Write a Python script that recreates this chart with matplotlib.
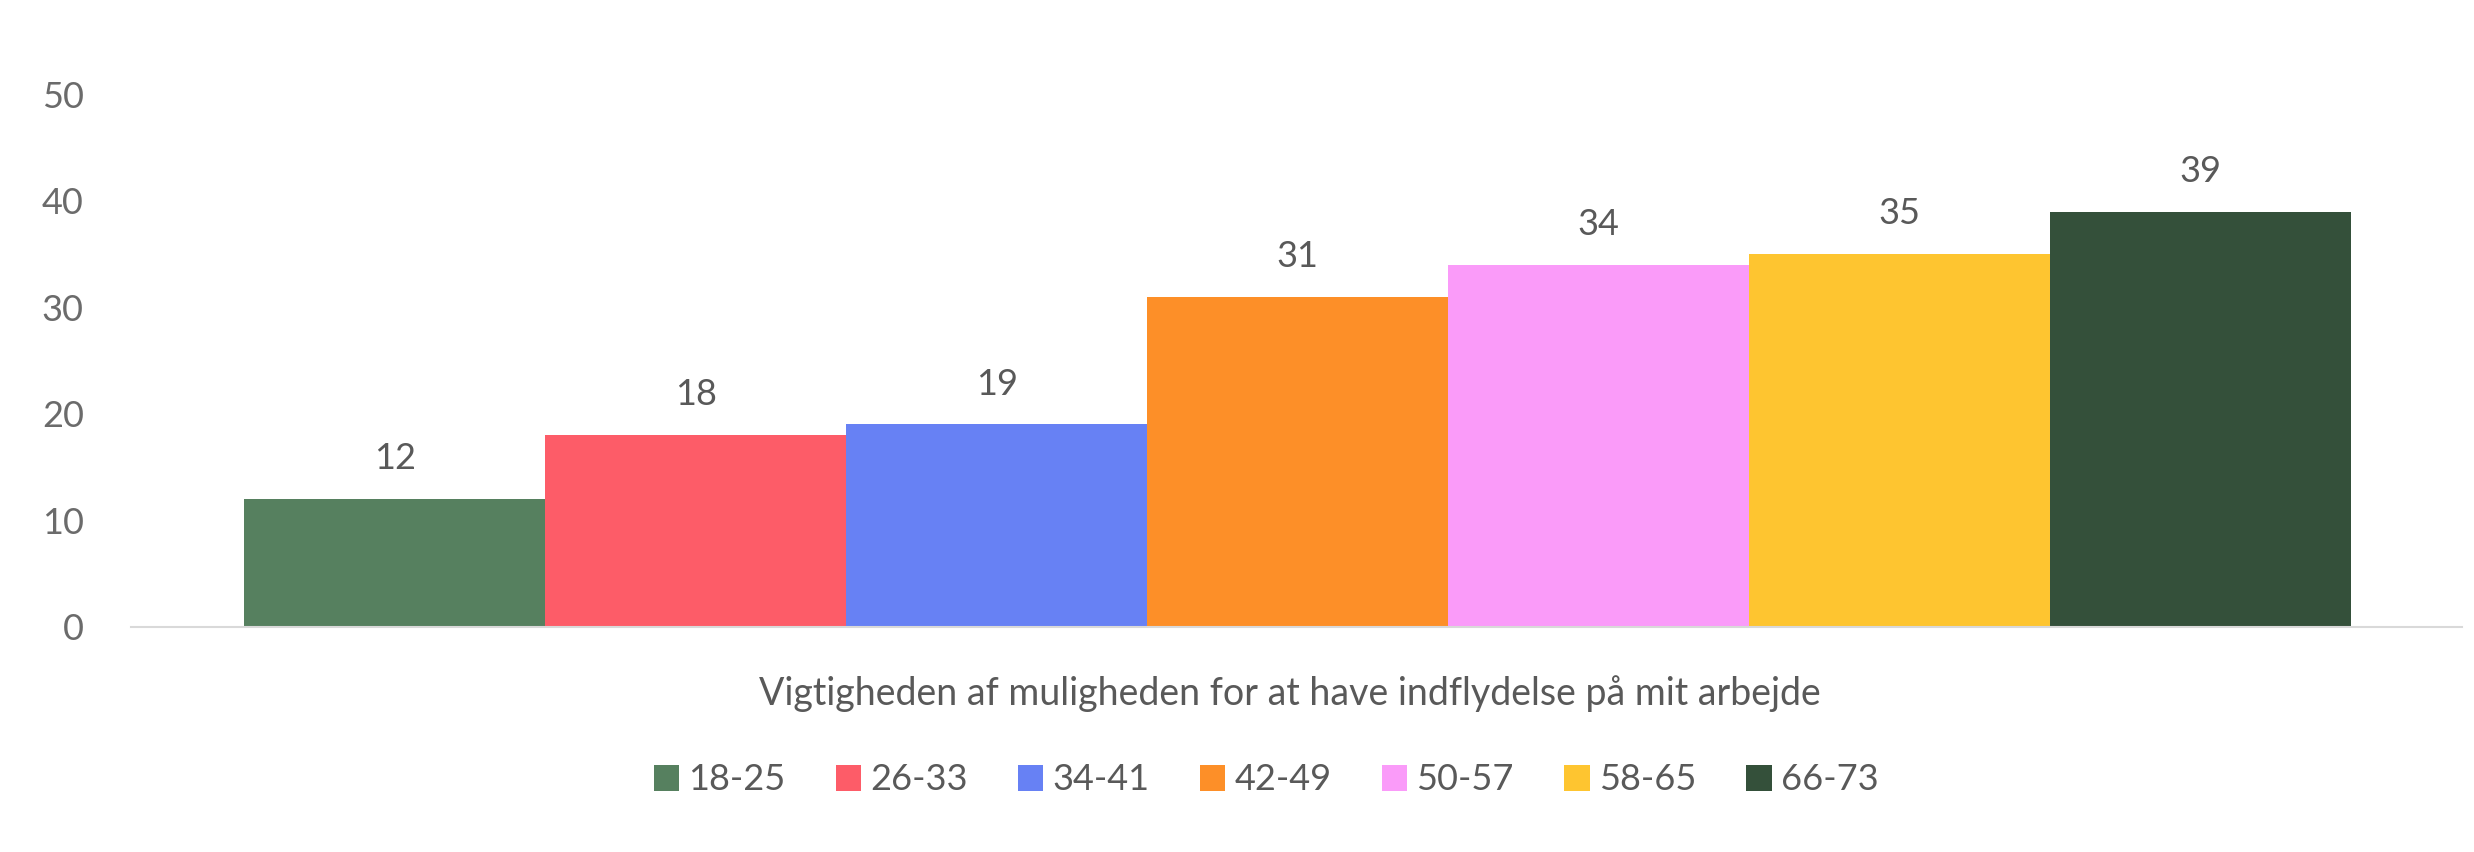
import matplotlib

matplotlib.use("Agg")
import matplotlib.pyplot as plt  # noqa: E402
from matplotlib.patches import Patch  # noqa: E402

groups = ["18-25", "26-33", "34-41", "42-49", "50-57", "58-65", "66-73"]
values = [12, 18, 19, 31, 34, 35, 39]
colors = ["#56805F", "#FD5C68", "#6781F4", "#FD8F28", "#FA9BF9", "#FEC530", "#34503A"]
category = "Vigtigheden af muligheden for at have indflydelse på mit arbejde"
yticks = [0, 10, 20, 30, 40, 50]

plt.rcParams["font.family"] = ["Lato", "DejaVu Sans"]
TEXT = "#595959"

fig = plt.figure(figsize=(24.74, 8.52), dpi=100)
ax = fig.add_axes([131 / 2474, 1 - 626.5 / 852, 2331 / 2474, (626.5 - 94.5) / 852])

x = list(range(len(values)))
ax.bar(x, values, width=1.0, color=colors, linewidth=0)

for xi, v in zip(x, values):
    ax.annotate(str(v), xy=(xi, v), xytext=(0, 17), textcoords="offset points",
                ha="center", va="bottom", fontsize=26, color=TEXT)

ax.set_xlim(-0.877, 6.869)
ax.set_ylim(0, 50)
ax.set_yticks(yticks)
ax.set_xticks([])
ax.tick_params(axis="y", length=0, pad=34, labelsize=26, labelcolor="#6b6b6b")

for s in ["top", "right", "left"]:
    ax.spines[s].set_visible(False)
ax.spines["bottom"].set_color("#d9d9d9")
ax.spines["bottom"].set_linewidth(1.5)

fig.text(1290 / 2474, 1 - 694 / 852, category, ha="center", va="center",
         fontsize=27, color=TEXT)

handles = [Patch(facecolor=c, edgecolor="none") for c in colors]
fig.legend(handles, groups, loc="center", bbox_to_anchor=(1266 / 2474, 1 - 780 / 852),
           ncol=7, frameon=False, handlelength=0.7, handleheight=0.7,
           handletextpad=0.25, columnspacing=1.4, labelcolor=TEXT,
           prop={"size": 26})

fig.savefig("out.png")
plt.close(fig)
